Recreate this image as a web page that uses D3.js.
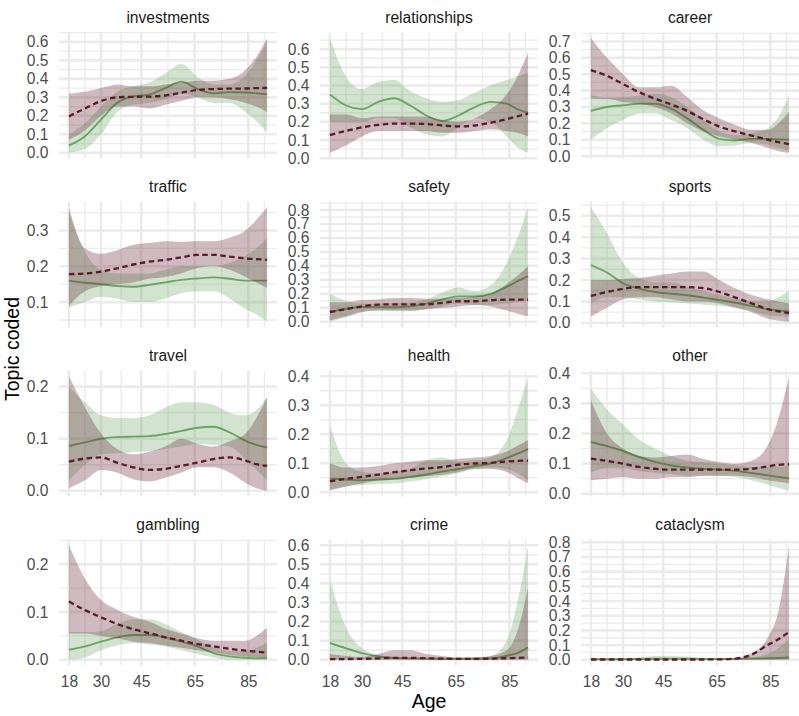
<!DOCTYPE html>
<html><head><meta charset="utf-8">
<script src="https://cdn.jsdelivr.net/npm/d3@7"></script>
<style>body{margin:0;background:#fff}svg{display:block}</style>
</head><body><svg id="c" width="799" height="716"></svg>
<script>
const ages = [18,24,30,36,42,48,54,60,66,72,78,84,88,92];
const topics = ["investments","relationships","career","traffic","safety","sports","travel","health","other","gambling","crime","cataclysm"];
const xTicks = [18,30,45,65,85];
const yTicks = [
 [0,0.1,0.2,0.3,0.4,0.5,0.6],
 [0,0.1,0.2,0.3,0.4,0.5,0.6],
 [0,0.1,0.2,0.3,0.4,0.5,0.6,0.7],
 [0.1,0.2,0.3],
 [0,0.1,0.2,0.3,0.4,0.5,0.6,0.7,0.8],
 [0,0.1,0.2,0.3,0.4,0.5],
 [0,0.1,0.2],
 [0,0.1,0.2,0.3,0.4],
 [0,0.1,0.2,0.3,0.4],
 [0,0.1,0.2],
 [0,0.1,0.2,0.3,0.4,0.5,0.6],
 [0,0.1,0.2,0.3,0.4,0.5,0.6,0.7,0.8]
];
const greenMean = [
 [0.04,0.09,0.18,0.27,0.305,0.315,0.35,0.385,0.345,0.322,0.328,0.326,0.322,0.316],
 [0.35,0.29,0.27,0.31,0.33,0.29,0.235,0.205,0.235,0.28,0.31,0.3,0.27,0.25],
 [0.277,0.3,0.31,0.32,0.32,0.29,0.23,0.16,0.105,0.095,0.105,0.105,0.102,0.1],
 [0.16,0.154,0.15,0.145,0.143,0.148,0.155,0.162,0.166,0.169,0.165,0.16,0.16,0.16],
 [0.07,0.093,0.106,0.105,0.104,0.11,0.13,0.16,0.182,0.182,0.2,0.25,0.29,0.327],
 [0.27,0.235,0.185,0.16,0.144,0.136,0.129,0.118,0.106,0.094,0.079,0.064,0.058,0.053],
 [0.086,0.093,0.1,0.103,0.104,0.105,0.109,0.115,0.121,0.123,0.112,0.096,0.088,0.083],
 [0.047,0.044,0.041,0.044,0.046,0.053,0.061,0.072,0.08,0.09,0.099,0.118,0.133,0.149],
 [0.172,0.158,0.142,0.122,0.106,0.094,0.087,0.083,0.08,0.076,0.069,0.061,0.056,0.051],
 [0.021,0.028,0.038,0.047,0.052,0.052,0.047,0.038,0.028,0.014,0.007,0.004,0.003,0.003],
 [0.088,0.06,0.035,0.018,0.009,0.007,0.006,0.005,0.005,0.005,0.007,0.021,0.035,0.065],
 [0.004,0.004,0.004,0.005,0.007,0.008,0.007,0.006,0.005,0.006,0.008,0.01,0.012,0.015]
];
const greenLo = [
 [0.0,0.02,0.1,0.22,0.26,0.27,0.29,0.32,0.3,0.27,0.27,0.22,0.17,0.11],
 [0.2,0.2,0.2,0.22,0.22,0.17,0.13,0.12,0.17,0.22,0.2,0.12,0.06,0.03],
 [0.1,0.17,0.22,0.26,0.26,0.22,0.17,0.1,0.06,0.065,0.08,0.07,0.05,0.03],
 [0.085,0.1,0.115,0.11,0.1,0.1,0.11,0.125,0.13,0.13,0.11,0.08,0.065,0.045],
 [0.0,0.03,0.07,0.08,0.075,0.075,0.09,0.11,0.13,0.12,0.12,0.13,0.14,0.15],
 [0.09,0.12,0.12,0.11,0.1,0.095,0.09,0.085,0.08,0.07,0.055,0.035,0.03,0.03],
 [0.02,0.05,0.07,0.072,0.074,0.076,0.08,0.085,0.09,0.088,0.085,0.06,0.04,0.02],
 [0.01,0.02,0.025,0.028,0.03,0.037,0.045,0.055,0.065,0.08,0.085,0.08,0.065,0.04],
 [0.07,0.085,0.085,0.075,0.07,0.065,0.06,0.06,0.06,0.055,0.045,0.03,0.02,0.01],
 [0.0,0.005,0.02,0.03,0.035,0.032,0.028,0.02,0.012,0.005,0.0,0.0,0.0,0.0],
 [0,0,0,0,0,0,0,0,0,0,0,0,0,0],
 [0,0,0,0,0,0,0,0,0,0,0,0,0,0]
];
const greenHi = [
 [0.1,0.16,0.25,0.33,0.36,0.38,0.43,0.48,0.41,0.37,0.37,0.42,0.5,0.6],
 [0.66,0.45,0.38,0.42,0.43,0.37,0.33,0.31,0.32,0.36,0.4,0.43,0.45,0.47],
 [0.37,0.36,0.36,0.37,0.38,0.36,0.3,0.22,0.15,0.13,0.14,0.17,0.24,0.37],
 [0.35,0.24,0.19,0.18,0.18,0.18,0.19,0.2,0.2,0.2,0.21,0.23,0.25,0.28],
 [0.2,0.15,0.13,0.13,0.135,0.14,0.16,0.21,0.245,0.22,0.26,0.42,0.6,0.82],
 [0.54,0.42,0.28,0.21,0.19,0.19,0.17,0.15,0.13,0.115,0.1,0.1,0.12,0.15],
 [0.2,0.17,0.145,0.14,0.14,0.145,0.16,0.17,0.17,0.165,0.15,0.145,0.155,0.18],
 [0.23,0.1,0.07,0.065,0.07,0.08,0.11,0.12,0.105,0.11,0.12,0.18,0.28,0.4],
 [0.35,0.28,0.23,0.18,0.15,0.125,0.11,0.105,0.1,0.095,0.09,0.09,0.09,0.095],
 [0.058,0.058,0.06,0.075,0.085,0.085,0.075,0.058,0.042,0.025,0.018,0.018,0.025,0.035],
 [0.42,0.17,0.06,0.025,0.015,0.012,0.01,0.01,0.01,0.012,0.02,0.1,0.3,0.6],
 [0.015,0.012,0.012,0.015,0.025,0.025,0.02,0.012,0.01,0.01,0.015,0.04,0.08,0.14]
];
const redMean = [
 [0.197,0.24,0.28,0.3,0.303,0.304,0.31,0.325,0.34,0.345,0.347,0.348,0.35,0.351],
 [0.128,0.15,0.17,0.183,0.19,0.19,0.188,0.18,0.175,0.18,0.195,0.215,0.23,0.245],
 [0.525,0.49,0.44,0.39,0.35,0.315,0.275,0.225,0.18,0.15,0.125,0.1,0.085,0.073],
 [0.178,0.18,0.185,0.194,0.205,0.213,0.218,0.225,0.232,0.232,0.227,0.222,0.22,0.218],
 [0.07,0.09,0.11,0.123,0.125,0.125,0.125,0.135,0.147,0.147,0.154,0.158,0.158,0.158],
 [0.126,0.144,0.159,0.167,0.167,0.167,0.167,0.162,0.144,0.118,0.091,0.064,0.054,0.045],
 [0.056,0.062,0.064,0.054,0.045,0.04,0.042,0.048,0.054,0.061,0.064,0.058,0.051,0.048],
 [0.038,0.046,0.053,0.061,0.069,0.076,0.082,0.087,0.095,0.099,0.101,0.106,0.108,0.109],
 [0.117,0.109,0.1,0.089,0.083,0.08,0.08,0.08,0.08,0.08,0.083,0.091,0.096,0.098],
 [0.122,0.104,0.089,0.075,0.064,0.056,0.047,0.04,0.033,0.028,0.023,0.019,0.017,0.015],
 [0.003,0.004,0.005,0.007,0.01,0.01,0.008,0.006,0.005,0.005,0.006,0.008,0.01,0.012],
 [0.002,0.002,0.002,0.002,0.002,0.002,0.002,0.002,0.003,0.008,0.035,0.1,0.14,0.19]
];
const redLo = [
 [0.07,0.12,0.2,0.25,0.25,0.24,0.26,0.28,0.3,0.3,0.29,0.27,0.25,0.22],
 [0.03,0.07,0.12,0.15,0.15,0.15,0.15,0.14,0.14,0.15,0.16,0.15,0.14,0.12],
 [0.35,0.35,0.33,0.32,0.3,0.26,0.2,0.15,0.12,0.1,0.08,0.05,0.03,0.02],
 [0.09,0.13,0.145,0.15,0.155,0.165,0.17,0.18,0.195,0.2,0.19,0.17,0.155,0.14],
 [0.01,0.04,0.07,0.08,0.08,0.08,0.09,0.1,0.11,0.12,0.11,0.08,0.06,0.04],
 [0.03,0.07,0.11,0.12,0.12,0.11,0.1,0.1,0.09,0.07,0.05,0.02,0.01,0.005],
 [0.005,0.02,0.04,0.035,0.022,0.018,0.025,0.035,0.045,0.045,0.035,0.015,0.005,0.0],
 [0.005,0.02,0.03,0.04,0.045,0.05,0.055,0.06,0.07,0.08,0.08,0.07,0.05,0.03],
 [0.045,0.05,0.055,0.05,0.05,0.055,0.055,0.06,0.06,0.06,0.055,0.045,0.04,0.035],
 [0.055,0.055,0.05,0.045,0.038,0.035,0.03,0.025,0.02,0.015,0.01,0.007,0.005,0.003],
 [0,0,0,0,0,0,0,0,0,0,0,0,0,0],
 [0,0,0,0,0,0,0,0,0,0,0,0,0,0]
];
const redHi = [
 [0.32,0.33,0.35,0.37,0.36,0.36,0.37,0.38,0.39,0.39,0.4,0.45,0.52,0.62],
 [0.24,0.24,0.22,0.23,0.23,0.23,0.23,0.21,0.2,0.22,0.27,0.35,0.45,0.58],
 [0.72,0.6,0.5,0.42,0.42,0.43,0.36,0.28,0.23,0.19,0.16,0.16,0.2,0.27],
 [0.365,0.25,0.235,0.245,0.26,0.265,0.27,0.268,0.27,0.27,0.28,0.3,0.33,0.365],
 [0.14,0.14,0.155,0.16,0.17,0.17,0.165,0.165,0.17,0.18,0.2,0.27,0.33,0.4],
 [0.2,0.2,0.205,0.21,0.22,0.23,0.24,0.24,0.2,0.16,0.13,0.11,0.1,0.09],
 [0.22,0.16,0.11,0.08,0.07,0.075,0.085,0.1,0.09,0.085,0.095,0.11,0.14,0.18],
 [0.1,0.085,0.085,0.09,0.1,0.105,0.11,0.11,0.115,0.12,0.125,0.14,0.16,0.18],
 [0.31,0.2,0.15,0.125,0.12,0.125,0.13,0.115,0.105,0.1,0.11,0.16,0.25,0.39],
 [0.24,0.17,0.125,0.105,0.09,0.08,0.065,0.055,0.045,0.04,0.04,0.04,0.05,0.067],
 [0.03,0.02,0.015,0.03,0.05,0.05,0.03,0.02,0.01,0.012,0.02,0.05,0.15,0.38],
 [0.005,0.005,0.005,0.005,0.005,0.005,0.005,0.005,0.006,0.012,0.045,0.15,0.33,0.78]
];

const FONT = "'Liberation Sans', Arial, Helvetica, sans-serif";
const svg = d3.select("#c");
svg.append("rect").attr("width",799).attr("height",716).attr("fill","#fff");

const colLeft = [59, 320, 581], panelW = 218;
const rowTop = [32.5, 201.5, 370.5, 539.5], panelH = 126;
const GRID = "#EBEBEB";
const greenCol = "#6AA662", redCol = "#5C1A2B", ribbonAlpha = 0.3;

function expand(ext){ const r = ext[1]-ext[0]; return [ext[0]-0.05*r, ext[1]+0.05*r]; }
const x = d3.scaleLinear().domain(expand([d3.min(ages), d3.max(ages)])).range([0, panelW]);

function minorBreaks(major, dom){
  const step = major[1]-major[0];
  const b = [major[0]-step, ...major, major[major.length-1]+step];
  const out = [];
  for (let i=0;i<b.length-1;i++){ const m=(b[i]+b[i+1])/2; if (m>=dom[0] && m<=dom[1]) out.push(m); }
  return out;
}

topics.forEach((name, i) => {
  const r = Math.floor(i/3), c = i%3;
  const g = svg.append("g").attr("transform", `translate(${colLeft[c]},${rowTop[r]})`);
  const all = [].concat(greenLo[i], greenHi[i], redLo[i], redHi[i], greenMean[i], redMean[i]);
  const y = d3.scaleLinear().domain(expand(d3.extent(all))).range([panelH, 0]);
  const yd = y.domain(), xd = x.domain();

  minorBreaks(yTicks[i], yd).forEach(v => g.append("line").attr("x1",0).attr("x2",panelW)
    .attr("y1",y(v)).attr("y2",y(v)).attr("stroke",GRID).attr("stroke-width",1.3));
  minorBreaks(xTicks, xd).forEach(v => g.append("line").attr("y1",0).attr("y2",panelH)
    .attr("x1",x(v)).attr("x2",x(v)).attr("stroke",GRID).attr("stroke-width",1.3));
  yTicks[i].forEach(v => g.append("line").attr("x1",0).attr("x2",panelW)
    .attr("y1",y(v)).attr("y2",y(v)).attr("stroke",GRID).attr("stroke-width",2.6));
  xTicks.forEach(v => g.append("line").attr("y1",0).attr("y2",panelH)
    .attr("x1",x(v)).attr("x2",x(v)).attr("stroke",GRID).attr("stroke-width",2.6));

  const idx = d3.range(ages.length);
  const area = (lo, hi) => d3.area().x(k => x(ages[k])).y0(k => y(lo[k])).y1(k => y(hi[k])).curve(d3.curveMonotoneX)(idx);
  const line = (m) => d3.line().x(k => x(ages[k])).y(k => y(m[k])).curve(d3.curveMonotoneX)(idx);

  // group 1 (solid, green): ribbon then line; group 2 (dashed, maroon): ribbon then line
  g.append("path").attr("d", area(greenLo[i], greenHi[i])).attr("fill", greenCol).attr("fill-opacity", ribbonAlpha);
  g.append("path").attr("d", line(greenMean[i])).attr("fill","none").attr("stroke",greenCol).attr("stroke-width",1.9);
  g.append("path").attr("d", area(redLo[i], redHi[i])).attr("fill", redCol).attr("fill-opacity", ribbonAlpha);
  g.append("path").attr("d", line(redMean[i])).attr("fill","none").attr("stroke",redCol).attr("stroke-width",2.3)
    .attr("stroke-dasharray","5.5,3.5");

  const ya = g.append("g").call(d3.axisLeft(y).tickValues(yTicks[i]).tickFormat(d3.format(".1f")).tickSize(0).tickPadding(10.5));
  ya.select(".domain").remove();
  ya.selectAll("text").attr("font-family",FONT).attr("font-size","15.6px").attr("fill","#4D4D4D");

  if (r === 3) {
    const xa = g.append("g").attr("transform",`translate(0,${panelH})`)
      .call(d3.axisBottom(x).tickValues(xTicks).tickSize(0).tickPadding(10.4));
    xa.select(".domain").remove();
    xa.selectAll("text").attr("font-family",FONT).attr("font-size","15.6px").attr("fill","#4D4D4D");
  }
  g.append("text").attr("x",panelW/2).attr("y",-10).attr("text-anchor","middle")
    .attr("font-family",FONT).attr("font-size","15.6px").attr("fill","#1A1A1A").text(name);
});

svg.append("text").attr("x", (colLeft[0] + 799)/2).attr("y", 708).attr("text-anchor","middle")
  .attr("font-family",FONT).attr("font-size","19.5px").attr("fill","#000").text("Age");
svg.append("text").attr("transform",`translate(19,${(rowTop[0]+rowTop[3]+panelH)/2}) rotate(-90)`)
  .attr("text-anchor","middle").attr("font-family",FONT).attr("font-size","19.5px").attr("fill","#000").text("Topic coded");
</script></body></html>
